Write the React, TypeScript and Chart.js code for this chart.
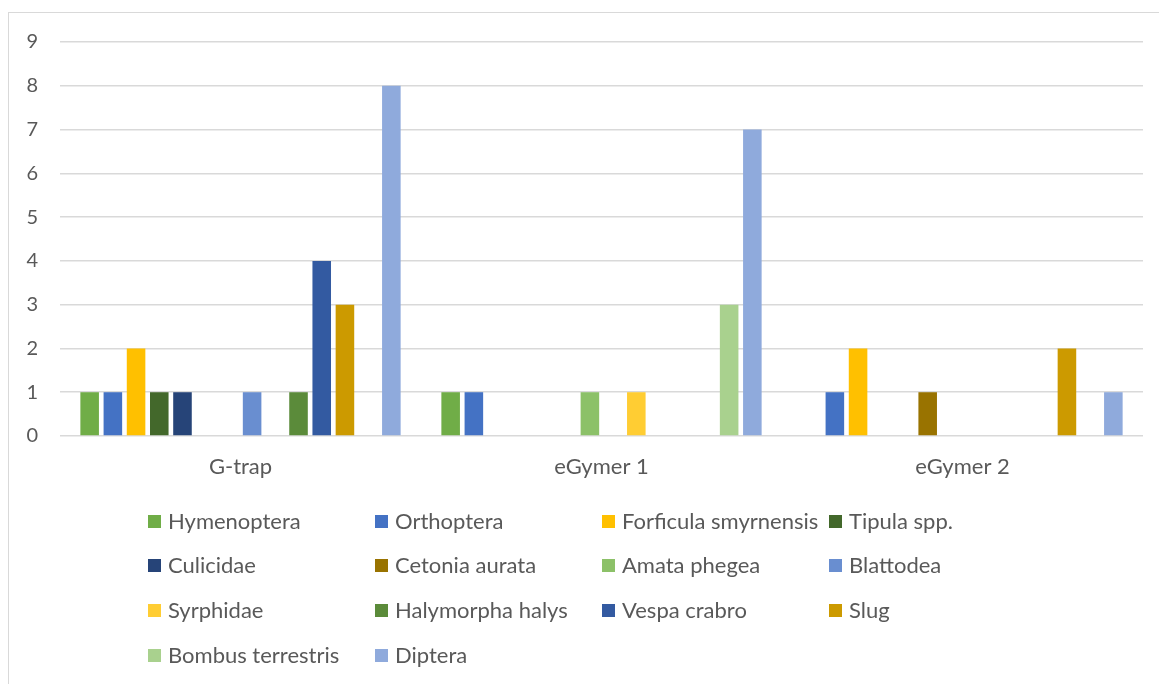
import React, { useEffect, useRef } from "react";
import { Chart, registerables } from "chart.js";

Chart.register(...registerables);

const categories = ["G-trap", "eGymer 1", "eGymer 2"];
const seriesNames = [
  "Hymenoptera",
  "Orthoptera",
  "Forficula smyrnensis",
  "Tipula spp.",
  "Culicidae",
  "Cetonia aurata",
  "Amata phegea",
  "Blattodea",
  "Syrphidae",
  "Halymorpha halys",
  "Vespa crabro",
  "Slug",
  "Bombus terrestris",
  "Diptera",
];
const hymenoptera = [1, 1, 0];
const orthoptera = [1, 1, 1];
const forficula = [2, 0, 2];
const tipula = [1, 0, 0];
const culicidae = [1, 0, 0];
const cetonia = [0, 0, 1];
const amata = [0, 1, 0];
const blattodea = [1, 0, 0];
const syrphidae = [0, 1, 0];
const halymorpha = [1, 0, 0];
const vespa = [4, 0, 0];
const slug = [3, 0, 2];
const bombus = [0, 3, 0];
const diptera = [8, 7, 1];
const seriesValues = [
  hymenoptera, orthoptera, forficula, tipula, culicidae, cetonia, amata,
  blattodea, syrphidae, halymorpha, vespa, slug, bombus, diptera,
];
const seriesColors = [
  "#70AD47", "#4472C4", "#FFC000", "#43682B", "#264478", "#997300", "#8CC168",
  "#698ED0", "#FFCD33", "#5B8B3A", "#335AA1", "#CC9A00", "#A9D18E", "#8FAADC",
];
const yTicks = [0, 1, 2, 3, 4, 5, 6, 7, 8, 9];

const FONT = "Lato, 'Liberation Sans', sans-serif";
const TEXT = "#595959";

export default function App() {
  const ref = useRef<HTMLCanvasElement | null>(null);
  useEffect(() => {
    if (!ref.current) return;
    document.body.style.overflow = "hidden";
    const chart = new Chart(ref.current, {
      type: "bar",
      data: {
        labels: categories,
        datasets: seriesNames.map((name, i) => ({
          label: name,
          data: seriesValues[i],
          backgroundColor: seriesColors[i],
          borderWidth: 0,
          categoryPercentage: 0.9,
          barPercentage: 0.8,
        })),
      },
      options: {
        animation: false,
        responsive: false,
        devicePixelRatio: 1,
        layout: { padding: { left: 0, right: 16, top: 42, bottom: 198 } },
        plugins: { legend: { display: false }, tooltip: { enabled: false } },
        scales: {
          x: {
            grid: { display: false, drawTicks: false },
            border: { display: false },
            ticks: { color: TEXT, font: { family: FONT, size: 22 }, padding: 18 },
            afterFit: (s: any) => { s.height = 50; },
          },
          y: {
            min: 0,
            max: 9,
            afterBuildTicks: (s: any) => { s.ticks = yTicks.map((v) => ({ value: v })); },
            grid: { color: "#D9D9D9", lineWidth: 1.5, drawTicks: false },
            border: { display: false },
            ticks: { color: TEXT, font: { family: FONT, size: 20 }, padding: 22 },
            afterFit: (s: any) => { s.width = 60; },
          },
        },
      },
    });
    return () => chart.destroy();
  }, []);

  const cols = [148, 375, 602, 829];
  const rows = [521, 565, 610, 655];

  return (
    <div style={{ position: "fixed", left: 0, top: 0, width: 1159, height: 684, background: "#fff", overflow: "hidden" }}>
      <div style={{ position: "absolute", left: 8, top: 12, width: 1160, height: 700, borderLeft: "1px solid #D9D9D9", borderTop: "1px solid #D9D9D9" }} />
      <canvas ref={ref} width={1159} height={684} style={{ position: "absolute", left: 0, top: 0, width: 1159, height: 684 }} />
      {seriesNames.map((name, i) => {
        const c = i % 4;
        const r = Math.floor(i / 4);
        return (
          <div key={name} style={{ position: "absolute", left: cols[c], top: rows[r] - 14, height: 28, display: "flex", alignItems: "center", whiteSpace: "nowrap" }}>
            <span style={{ display: "inline-block", width: 13, height: 13, background: seriesColors[i], marginRight: 7 }} />
            <span style={{ fontFamily: FONT, fontSize: 22, color: TEXT, lineHeight: "28px" }}>{name}</span>
          </div>
        );
      })}
    </div>
  );
}
